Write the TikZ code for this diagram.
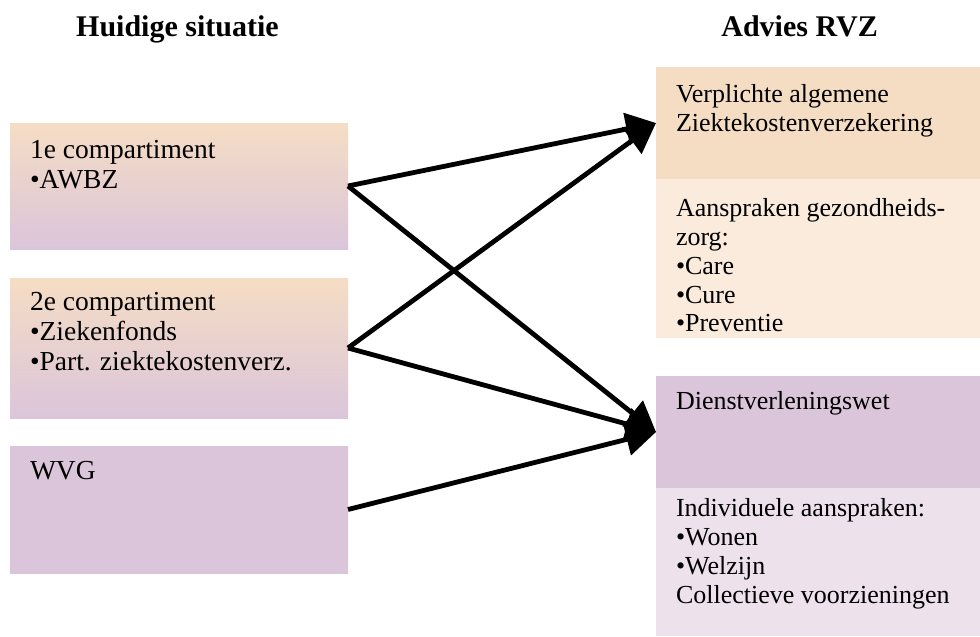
\documentclass[tikz,border=0pt]{standalone}
\usepackage{fontspec}
\setmainfont{Liberation Serif}
\usetikzlibrary{arrows.meta}
\definecolor{peach}{RGB}{245,221,196}
\definecolor{peachlt}{RGB}{250,235,220}
\definecolor{lilac}{RGB}{219,197,218}
\definecolor{lilaclt}{RGB}{237,226,236}
\newcommand{\leftfont}{\fontsize{27.5}{30}\selectfont}
\newcommand{\rightfont}{\fontsize{26}{28.7}\selectfont}
\begin{document}
\begin{tikzpicture}[x=1pt,y=-1pt,
  leftbox/.style={anchor=north west, inner sep=0pt, outer sep=0pt, draw=none,
    minimum width=338pt, top color=peach, bottom color=lilac},
  rightbox/.style={anchor=north west, inner sep=0pt, outer sep=0pt, draw=none,
    minimum width=324pt},
  txt/.style={anchor=north west, inner sep=0pt, outer sep=0pt, align=left},
  heading/.style={inner sep=0pt, font=\bfseries\fontsize{30}{36}\selectfont},
  arr/.style={line width=4.8pt, -{Triangle[length=30pt,width=32pt]}}]
\useasboundingbox (0,0) rectangle (980,637);

% headings
\node[heading, anchor=base west] (h1) at (76,36) {Huidige situatie};
\node[heading, anchor=base east] (h2) at (878,36) {Advies RVZ};

% left boxes
\node[leftbox, minimum height=126pt] (c1) at (10,123) {};
\node[leftbox, minimum height=140pt] (c2) at (10,278) {};
\node[leftbox, minimum height=127pt, top color=lilac] (c3) at (10,446) {};

\node[txt, font=\leftfont] (t1) at (30,137) {\strut 1e compartiment\\\strut •AWBZ};
\node[txt, font=\leftfont] (t2) at (30,289) {\strut 2e compartiment\\\strut •Ziekenfonds\\\strut •Part. ziektekostenverz.};
\node[txt, font=\leftfont] (t3) at (30,458) {\strut WVG};

% right boxes
\node[rightbox, minimum height=112pt, fill=peach] (r1) at (656,67) {};
\node[rightbox, minimum height=159pt, fill=peachlt] (r2) at (656,179) {};
\node[rightbox, minimum height=112pt, fill=lilac] (r3) at (656,376) {};
\node[rightbox, minimum height=148pt, fill=lilaclt] (r4) at (656,488) {};

\node[txt, font=\rightfont] (s1) at (676,82.9) {\strut Verplichte algemene\\\strut Ziektekostenverzekering};
\node[txt, font=\rightfont] (s2) at (676,196.9) {\strut Aanspraken gezondheids-\\\strut zorg:\\\strut •Care\\\strut •Cure\\\strut •Preventie};
\node[txt, font=\rightfont] (s3) at (676,389.9) {\strut Dienstverleningswet};
\node[txt, font=\rightfont] (s4) at (676,496.9) {\strut Individuele aanspraken:\\\strut •Wonen\\\strut •Welzijn\\\strut Collectieve voorzieningen};

% connectors
\draw[arr] (c1.east) -- (r1.west);
\draw[arr] (c1.east) -- (r3.west);
\draw[arr] (c2.east) -- (r1.west);
\draw[arr] (c2.east) -- (r3.west);
\draw[arr] (c3.east) -- (r3.west);
\end{tikzpicture}
\end{document}
